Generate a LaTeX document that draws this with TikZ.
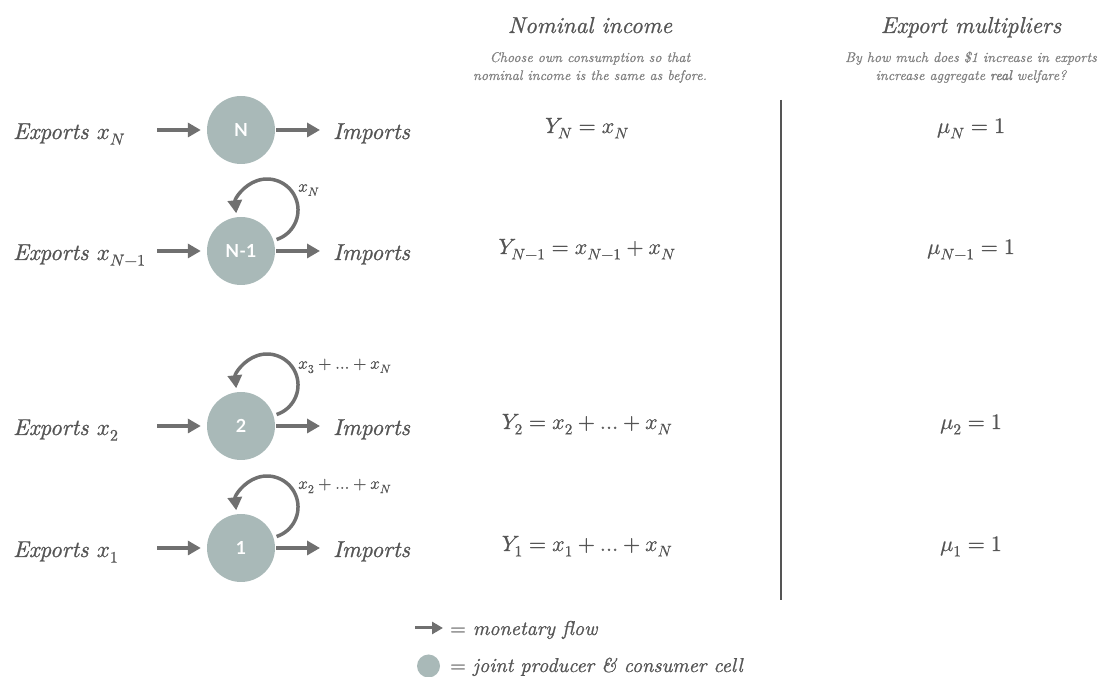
\RequirePackage{fix-cm}
\documentclass[tikz,border=0pt]{standalone}
\usepackage{fontspec}
\usepackage{unicode-math}
\setmathfont{latinmodern-math.otf}[FakeBold=0.7]
\newfontfamily\cellfont{Lato}
\newfontfamily\heavyit{lmroman10-italic}[Extension=.otf,FakeBold=0.9]
\newfontfamily\subit{lmroman10-italic}[Extension=.otf,FakeBold=0.6]
\newfontfamily\subbf{lmroman10-italic}[Extension=.otf,FakeBold=2.6]
\usetikzlibrary{arrows.meta}
\definecolor{txt}{HTML}{555555}
\definecolor{subc}{HTML}{808080}
\definecolor{cellc}{HTML}{A9B9B8}
\definecolor{arrc}{HTML}{707070}
\begin{document}
\begin{tikzpicture}[x=1pt,y=1pt,
  cell/.style={circle,fill=cellc,minimum size=68pt,inner sep=0pt,text=white,font=\cellfont\bfseries\fontsize{18}{18}\selectfont},
  flow/.style={draw=arrc,line width=3.5pt,-{Triangle[length=13pt,width=14pt]}},
  big/.style={text=txt,font=\heavyit\fontsize{23}{27}\selectfont,inner sep=0pt},
  sub/.style={text=subc,font=\subit\fontsize{14}{17}\selectfont,inner sep=0pt},
  eq/.style={text=txt,font=\fontsize{22}{26}\selectfont,inner sep=0pt},
  lbl/.style={text=txt,font=\fontsize{17}{19}\selectfont,inner sep=0pt},
  leg/.style={text=txt,font=\heavyit\fontsize{20}{24}\selectfont,inner sep=0pt},
  divider/.style={draw=txt,line width=1.2pt}]
\useasboundingbox (0,0) rectangle (1103,677);

% headers
\node[big,anchor=base] (h1) at (590,644) {Nominal income};
\node[sub,anchor=base] (s1a) at (590,615) {Choose own consumption so that};
\node[sub,anchor=base] (s1b) at (590,597) {nominal income is the same as before.};
\node[big,anchor=base] (h2) at (971,644) {Export multipliers};
\node[sub,anchor=base] (s2a) at (971,615) {By how much does \$1 increase in exports};
\node[sub,anchor=base] (s2b) at (971,597) {increase aggregate {\subbf\fontsize{14}{17}\selectfont real} welfare?};

% divider
\coordinate (v1) at (781,577);
\coordinate (v2) at (781,77);
\draw[divider] (v1) -- (v2);

% cells
\node[cell] (c1) at (241,547) {N};
\node[cell] (c2) at (241,426) {N-1};
\node[cell] (c3) at (241,251) {2};
\node[cell] (c4) at (241,129) {1};

% exports / imports text
\node[big,anchor=base west] (e1) at (13,538) {Exports $x_N$};
\node[big,anchor=base west] (e2) at (13,417) {Exports $x_{N-1}$};
\node[big,anchor=base west] (e3) at (13,242) {Exports $x_2$};
\node[big,anchor=base west] (e4) at (13,120) {Exports $x_1$};
\node[big,anchor=base west] (i1) at (333,538) {Imports};
\node[big,anchor=base west] (i2) at (333,417) {Imports};
\node[big,anchor=base west] (i3) at (333,242) {Imports};
\node[big,anchor=base west] (i4) at (333,120) {Imports};

% arrow ends
\coordinate (ea1) at (157,547); \coordinate (ia1) at (320,547);
\coordinate (ea2) at (157,426); \coordinate (ia2) at (320,426);
\coordinate (ea3) at (157,251); \coordinate (ia3) at (320,251);
\coordinate (ea4) at (157,129); \coordinate (ia4) at (320,129);

\foreach \k in {1,2,3,4}{
  \draw[flow] (ea\k) -- ([xshift=-6pt]c\k.west);
  \draw[flow] ([xshift=1pt]c\k.east) -- (ia\k);
}

% loops
\foreach \k in {2,3,4}{
  \draw[flow] ([shift={(35.6,11.5)}]c\k.center) arc[start angle=-72,end angle=186,radius=31];
}
\node[lbl,anchor=west] (l2) at ([shift={(57,61)}]c2.center) {$x_N$};
\node[lbl,anchor=west] (l3) at ([shift={(57,60)}]c3.center) {$x_3 + \ldots + x_N$};
\node[lbl,anchor=west] (l4) at ([shift={(57,62)}]c4.center) {$x_2 + \ldots + x_N$};

% nominal income equations
\node[eq,anchor=base] (y1) at (587,544) {$Y_N = x_N$};
\node[eq,anchor=base] (y2) at (587,423) {$Y_{N-1} = x_{N-1} + x_N$};
\node[eq,anchor=base] (y3) at (587,248) {$Y_2 = x_2 + \ldots + x_N$};
\node[eq,anchor=base] (y4) at (587,126) {$Y_1 = x_1 + \ldots + x_N$};

% multipliers
\node[eq,anchor=base] (m1) at (971,544) {$\mu_N = 1$};
\node[eq,anchor=base] (m2) at (971,423) {$\mu_{N-1} = 1$};
\node[eq,anchor=base] (m3) at (971,248) {$\mu_2 = 1$};
\node[eq,anchor=base] (m4) at (971,126) {$\mu_1 = 1$};

% legend
\coordinate (la) at (415,49);
\coordinate (lb) at (443,49);
\draw[flow,line width=3pt,-{Triangle[length=11pt,width=12pt]}] (la) -- (lb);
\node[leg,anchor=base west] (lt1) at (450,42) {$=$ monetary flow};
\node[circle,fill=cellc,minimum size=23pt,inner sep=0pt] (lc) at (428.5,11) {};
\node[leg,anchor=base west] (lt2) at (450,5) {$=$ joint producer \& consumer cell};
\end{tikzpicture}
\end{document}
